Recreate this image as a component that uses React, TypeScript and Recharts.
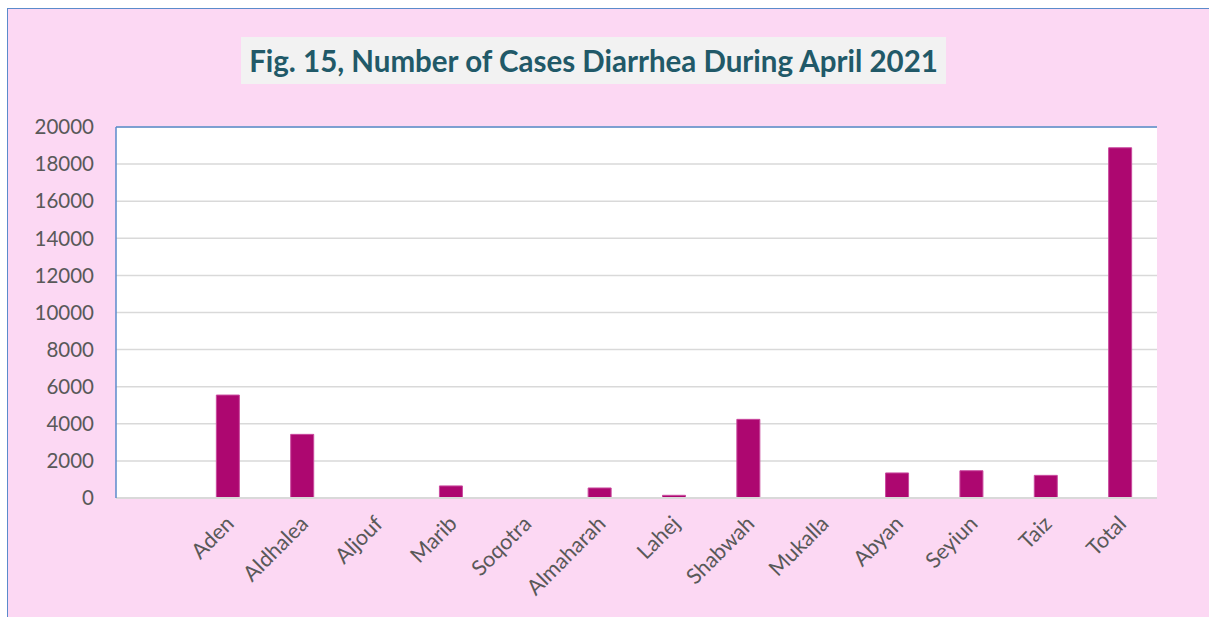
import { BarChart, Bar, XAxis, YAxis, CartesianGrid, ReferenceLine } from 'recharts';

const regions = ['', 'Aden', 'Aldhalea', 'Aljouf', 'Marib', 'Soqotra', 'Almaharah', 'Lahej', 'Shabwah', 'Mukalla', 'Abyan', 'Seyiun', 'Taiz', 'Total'];
const cases = [0, 5550, 3430, 0, 650, 0, 540, 145, 4240, 0, 1350, 1470, 1220, 18880];
const yTicks = [0, 2000, 4000, 6000, 8000, 10000, 12000, 14000, 16000, 18000, 20000];

const data = regions.map((region, i) => ({ region, cases: cases[i] }));

const FONT = 'Lato, "Open Sans", sans-serif';

// rotated category labels, like the office chart
const SlantTick = (props: any) => {
  const { x, y, payload } = props;
  return (
    <g transform={`translate(${x},${y})`}>
      <text
        x={0}
        y={0}
        dy={19}
        dx={-8}
        textAnchor="end"
        fill="#595959"
        fontSize={21.5}
        fontFamily={FONT}
        transform="rotate(-45)"
      >
        {payload.value}
      </text>
    </g>
  );
};

export default function App() {
  return (
    <div
      style={{
        position: 'absolute',
        left: 7,
        top: 8,
        width: 1202,
        height: 609,
        boxSizing: 'border-box',
        borderLeft: '1px solid #5B8BCB',
        borderTop: '1px solid #5B8BCB',
        background: '#FCD8F3',
        fontFamily: FONT,
      }}
    >
      <div
        style={{
          position: 'absolute',
          left: 233,
          top: 28,
          width: 705,
          height: 47,
          background: '#F2F2F2',
          color: '#215968',
          fontWeight: 700,
          fontSize: 29.5,
          lineHeight: '47px',
          textAlign: 'center',
          whiteSpace: 'nowrap',
        }}
      >
        Fig. 15, Number of Cases Diarrhea During April 2021
      </div>
      <div style={{ position: 'absolute', left: 0, top: 0 }}>
        <BarChart
          width={1201}
          height={608}
          data={data}
          margin={{ top: 118, right: 52, left: 28, bottom: 19 }}
          barSize={23}
        >
          <CartesianGrid vertical={false} stroke="#D9D9D9" strokeWidth={1.5} fill="#FFFFFF" />
          <XAxis
            dataKey="region"
            interval={0}
            height={100}
            tickLine={false}
            axisLine={{ stroke: '#D9D9D9', strokeWidth: 2 }}
            tick={<SlantTick />}
          />
          <YAxis
            domain={[0, 20000]}
            ticks={yTicks}
            width={80}
            tickLine={false}
            tickSize={0}
            tickMargin={22}
            axisLine={{ stroke: '#5B8BCB', strokeWidth: 1.5 }}
            tick={{ fill: '#595959', fontSize: 20.5, fontFamily: FONT }}
          />
          <YAxis
            yAxisId="edge"
            orientation="right"
            domain={[0, 20000]}
            width={0}
            tick={false}
            tickLine={false}
            axisLine={{ stroke: '#5B8BCB', strokeWidth: 1.5 }}
          />
          <ReferenceLine y={20000} stroke="#5B8BCB" strokeWidth={1.5} />
          <Bar dataKey="cases" fill="#AD0770" stroke="#C94A9E" strokeWidth={1} isAnimationActive={false} />
        </BarChart>
      </div>
    </div>
  );
}
